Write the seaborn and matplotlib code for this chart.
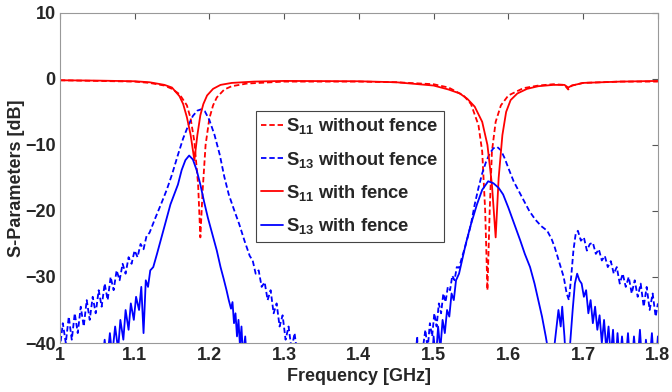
import pandas as pd
import seaborn as sns
import matplotlib.pyplot as plt

# S11 without fence (red dashed)
s11_nofence_f = [1.000, 1.050, 1.100, 1.120, 1.140, 1.150, 1.160, 1.170, 1.175, 1.180, 1.185, 1.188,
                 1.191, 1.195, 1.200, 1.205, 1.210, 1.220, 1.230, 1.250, 1.300, 1.400, 1.450, 1.500,
                 1.520, 1.540, 1.550, 1.560, 1.565, 1.569, 1.572, 1.575, 1.578, 1.583, 1.590, 1.600,
                 1.620, 1.640, 1.660, 1.675, 1.680, 1.685, 1.700, 1.750, 1.800]
s11_nofence_db = [-0.2, -0.3, -0.4, -0.6, -1.0, -1.5, -2.3, -4.0, -6.0, -9.5, -16.0, -24.0,
                  -17.0, -10.0, -6.0, -4.0, -2.8, -1.6, -1.1, -0.7, -0.4, -0.4, -0.5, -0.8,
                  -1.3, -2.5, -3.8, -7.0, -11.0, -20.0, -32.0, -20.0, -11.0, -6.5, -4.0, -2.5,
                  -1.4, -1.0, -0.8, -0.9, -1.6, -1.0, -0.6, -0.4, -0.4]

# S11 with fence (red solid)
s11_fence_f = [1.000, 1.050, 1.100, 1.120, 1.140, 1.150, 1.160, 1.165, 1.170, 1.175, 1.180, 1.184,
               1.188, 1.192, 1.197, 1.205, 1.215, 1.230, 1.260, 1.300, 1.400, 1.450, 1.500, 1.520,
               1.535, 1.545, 1.555, 1.565, 1.572, 1.578, 1.583, 1.587, 1.592, 1.597, 1.603, 1.612,
               1.625, 1.640, 1.660, 1.675, 1.680, 1.685, 1.700, 1.750, 1.800]
s11_fence_db = [-0.2, -0.25, -0.35, -0.5, -0.9, -1.3, -2.6, -3.8, -5.8, -8.5, -12.3, -8.5,
                -5.5, -3.8, -2.5, -1.5, -0.9, -0.6, -0.4, -0.3, -0.35, -0.5, -1.0, -1.6,
                -2.2, -3.0, -4.2, -6.5, -10.0, -16.0, -24.0, -15.0, -8.5, -5.0, -3.2, -2.2,
                -1.5, -1.1, -0.9, -0.9, -1.3, -1.0, -0.6, -0.4, -0.3]

# S13 without fence (blue dashed)
s13_nofence_f = [1.000, 1.004, 1.008, 1.012, 1.016, 1.020, 1.024, 1.028, 1.032, 1.036, 1.040, 1.044,
                 1.048, 1.052, 1.056, 1.060, 1.064, 1.068, 1.072, 1.076, 1.080, 1.084, 1.088, 1.092,
                 1.096, 1.100, 1.104, 1.108, 1.112, 1.116, 1.120, 1.128, 1.136, 1.143, 1.150, 1.158,
                 1.165, 1.172, 1.178, 1.184, 1.189, 1.194, 1.200, 1.207, 1.214, 1.220, 1.226, 1.233,
                 1.240, 1.247, 1.254, 1.258, 1.262, 1.266, 1.270, 1.274, 1.278, 1.282, 1.286, 1.290,
                 1.294, 1.298, 1.302, 1.306, 1.310, 1.314, 1.318, 1.322, 1.326, 1.330, 1.340, 1.460,
                 1.474, 1.478, 1.480, 1.486, 1.489, 1.492, 1.495, 1.498, 1.501, 1.504, 1.507, 1.510,
                 1.513, 1.516, 1.519, 1.522, 1.525, 1.528, 1.531, 1.534, 1.538, 1.542, 1.546, 1.550,
                 1.555, 1.560, 1.565, 1.570, 1.575, 1.580, 1.585, 1.590, 1.595, 1.600, 1.607, 1.614,
                 1.620, 1.628, 1.636, 1.644, 1.652, 1.658, 1.662, 1.666, 1.670, 1.674, 1.678, 1.681,
                 1.684, 1.687, 1.690, 1.693, 1.697, 1.701, 1.705, 1.709, 1.713, 1.717, 1.721, 1.725,
                 1.729, 1.733, 1.737, 1.741, 1.745, 1.749, 1.753, 1.757, 1.761, 1.765, 1.769, 1.773,
                 1.777, 1.781, 1.785, 1.789, 1.793, 1.797, 1.800]
s13_nofence_db = [-41.0, -37.0, -40.0, -36.0, -39.5, -35.5, -38.5, -34.5, -37.5, -33.5, -36.5, -33.0,
                  -35.5, -32.0, -34.5, -31.0, -33.5, -30.0, -32.0, -29.0, -30.5, -28.0, -29.5, -27.0,
                  -28.0, -26.0, -27.0, -25.0, -25.8, -23.8, -23.3, -21.0, -18.8, -16.8, -14.5, -11.5,
                  -9.0, -7.0, -5.6, -4.8, -4.6, -4.9, -6.2, -8.5, -11.5, -14.8, -17.5, -19.8,
                  -22.0, -24.5, -26.8, -27.5, -29.5, -29.0, -31.5, -30.8, -33.5, -32.0, -35.5, -34.0,
                  -37.5, -35.8, -39.5, -37.5, -41.0, -38.5, -42.0, -40.5, -44.0, -45.0, -50.0, -50.0,
                  -45.0, -39.0, -44.0, -40.5, -38.0, -41.0, -37.0, -39.0, -35.5, -37.5, -34.0, -35.5,
                  -32.5, -33.8, -31.5, -32.0, -29.8, -30.5, -28.5, -28.6, -27.0, -25.5, -23.8, -22.0,
                  -19.0, -16.5, -14.3, -12.6, -11.3, -10.5, -10.3, -10.8, -12.0, -13.5, -15.5, -17.0,
                  -18.3, -20.0, -21.3, -22.3, -23.0, -24.3, -25.5, -27.0, -28.5, -30.0, -32.5, -33.5,
                  -30.0, -26.0, -23.5, -23.0, -24.5, -24.0, -26.0, -25.0, -24.8, -26.5, -25.8, -27.5,
                  -26.8, -28.5, -27.6, -29.5, -28.5, -31.0, -29.5, -31.5, -30.0, -32.5, -30.5, -33.0,
                  -31.0, -34.5, -31.5, -35.0, -32.5, -36.0, -34.0]

# S13 with fence (blue solid)
s13_fence_f = [1.040, 1.056, 1.060, 1.063, 1.067, 1.070, 1.074, 1.078, 1.081, 1.085, 1.088, 1.092,
               1.095, 1.099, 1.102, 1.106, 1.109, 1.112, 1.115, 1.118, 1.121, 1.125, 1.130, 1.136,
               1.142, 1.148, 1.153, 1.158, 1.163, 1.168, 1.173, 1.178, 1.183, 1.188, 1.193, 1.198,
               1.204, 1.210, 1.215, 1.219, 1.223, 1.226, 1.229, 1.231, 1.233, 1.235, 1.237, 1.239,
               1.241, 1.243, 1.245, 1.248, 1.251, 1.256, 1.460, 1.488, 1.494, 1.497, 1.500, 1.503,
               1.506, 1.509, 1.512, 1.515, 1.518, 1.521, 1.524, 1.527, 1.530, 1.534, 1.538, 1.543,
               1.550, 1.558, 1.565, 1.573, 1.580, 1.587, 1.593, 1.600, 1.608, 1.616, 1.622, 1.629,
               1.635, 1.640, 1.645, 1.650, 1.653, 1.656, 1.660, 1.664, 1.667, 1.670, 1.672, 1.675,
               1.678, 1.682, 1.686, 1.689, 1.692, 1.695, 1.698, 1.701, 1.704, 1.707, 1.710, 1.713,
               1.716, 1.719, 1.722, 1.725, 1.728, 1.731, 1.734, 1.737, 1.740, 1.743, 1.746, 1.749,
               1.752, 1.756, 1.760, 1.764, 1.768, 1.772, 1.776, 1.780, 1.784, 1.788, 1.792, 1.796,
               1.800]
s13_fence_db = [-50.0, -44.0, -39.5, -43.0, -38.5, -42.0, -37.5, -41.0, -36.5, -39.5, -35.0, -38.0,
                -34.0, -36.5, -33.0, -35.0, -31.5, -38.5, -30.5, -31.5, -29.0, -28.5, -26.5, -24.0,
                -21.5, -19.0, -17.5, -16.0, -13.8, -12.3, -11.6, -12.2, -13.8, -16.0, -18.6, -21.0,
                -23.5, -26.0, -28.5, -30.2, -32.0, -33.5, -34.8, -33.8, -37.0, -35.5, -39.0, -36.5,
                -40.5, -37.5, -42.0, -39.0, -44.0, -50.0, -50.0, -50.0, -41.0, -44.0, -39.0, -42.5,
                -37.5, -41.0, -36.5, -38.5, -35.0, -36.0, -32.5, -33.5, -30.5, -29.5, -27.5, -25.0,
                -22.0, -19.0, -16.8, -15.5, -15.8, -16.5, -17.5, -19.5, -22.0, -24.5, -26.5, -28.5,
                -31.0, -33.5, -36.0, -39.0, -41.0, -45.0, -42.0, -38.0, -35.0, -37.5, -34.5, -39.0,
                -45.0, -41.0, -35.0, -31.0, -29.5, -30.5, -31.0, -33.0, -32.0, -35.5, -33.5, -37.0,
                -34.5, -38.0, -35.8, -40.0, -36.5, -41.0, -37.5, -42.0, -38.0, -44.0, -38.5, -43.0,
                -39.0, -44.0, -38.5, -45.0, -39.0, -44.0, -38.0, -45.0, -39.5, -44.0, -38.5, -45.0,
                -39.0]

trace_names = [r"S$_{\mathbf{11}}$ without fence", r"S$_{\mathbf{13}}$ without fence",
               r"S$_{\mathbf{11}}$ with fence", r"S$_{\mathbf{13}}$ with fence"]
trace_colors = ["#ff0000", "#0000ff", "#ff0000", "#0000ff"]
trace_dashes = [(3, 1.6), (3, 1.6), "", ""]

x_ticks = [1, 1.1, 1.2, 1.3, 1.4, 1.5, 1.6, 1.7, 1.8]
y_ticks = [-40, -30, -20, -10, 0, 10]

sns.set_style("white")
plt.rcParams["font.family"] = ["Liberation Sans", "DejaVu Sans"]
plt.rcParams["font.weight"] = "bold"
plt.rcParams["mathtext.fontset"] = "custom"
plt.rcParams["mathtext.rm"] = "Liberation Sans:bold"
plt.rcParams["mathtext.bf"] = "Liberation Sans:bold"

series = [(s11_nofence_f, s11_nofence_db), (s13_nofence_f, s13_nofence_db),
          (s11_fence_f, s11_fence_db), (s13_fence_f, s13_fence_db)]
frames = []
for name, (f, db) in zip(trace_names, series):
    frames.append(pd.DataFrame({"freq": f, "db": db, "trace": name}))
df = pd.concat(frames, ignore_index=True)

fig, ax = plt.subplots(figsize=(6.72, 3.92), dpi=100)
fig.subplots_adjust(left=0.089, right=0.979, top=0.967, bottom=0.125)

sns.lineplot(
    data=df, x="freq", y="db", hue="trace", style="trace",
    hue_order=trace_names, style_order=trace_names,
    palette=dict(zip(trace_names, trace_colors)),
    dashes=dict(zip(trace_names, trace_dashes)),
    estimator=None, sort=False, linewidth=1.3, ax=ax
)

ax.set_xlim(1, 1.8)
ax.set_ylim(-40, 10)
ax.set_xticks(x_ticks)
ax.set_xticklabels([f"{t:g}" for t in x_ticks])
ax.set_yticks(y_ticks)
ax.tick_params(direction="in", length=4, width=0.8, color="#555555",
               top=True, right=True, labelsize=13, pad=3)
for sp in ax.spines.values():
    sp.set_color("#999999")
    sp.set_linewidth(0.8)

ax.set_xlabel("Frequency [GHz]", fontsize=13, fontweight="bold", labelpad=3)
ax.set_ylabel("S-Parameters [dB]", fontsize=13, fontweight="bold", labelpad=0)

leg = ax.legend(loc="upper left", bbox_to_anchor=(0.328, 0.703), borderaxespad=0,
                fontsize=13.2, handlelength=1.2, handletextpad=0.15, labelspacing=0.72,
                fancybox=False, framealpha=1, borderpad=0.3)
leg.get_frame().set_edgecolor("#444444")
leg.get_frame().set_linewidth(0.8)

fig.savefig("out.png", dpi=100)
